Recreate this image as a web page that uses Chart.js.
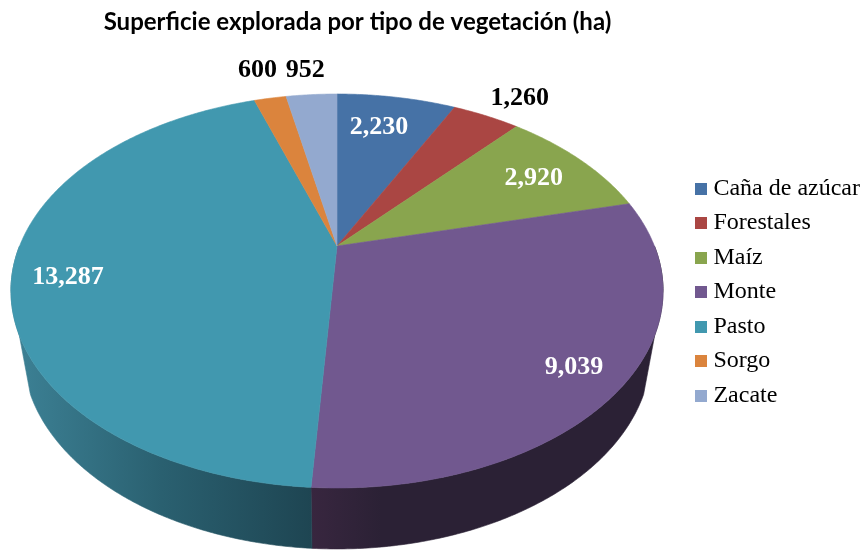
<!DOCTYPE html>
<html><head><meta charset="utf-8">
<style>html,body{margin:0;padding:0;background:#fff}#w{width:864px;height:550px}</style>
<script src="https://cdn.jsdelivr.net/npm/chart.js@4"></script></head>
<body><div id="w"><canvas id="c"></canvas></div>
<script>
const chartTitle = 'Superficie explorada por tipo de vegetación (ha)';
const categories = ['Caña de azúcar','Forestales','Maíz','Monte','Pasto','Sorgo','Zacate'];
const hectares = [2230,1260,2920,9039,13287,600,952];
const sliceColors = ['#4672A6','#AA4643','#89A54E','#71588F','#4198AF','#DB843D','#93A9CF'];
const wallStops = [null,null,null,['#38263F','#2B2135','#2B2135'],['#3D8296','#2A6070','#1E4552'],null,null];
const labelColors = ['#fff','#000','#fff','#fff','#fff','#000','#000'];
const labelRadius = [0.76,1.197,0.781,0.861,0.832,1.242,1.208];
const labelAngleShift = [-1.5,2,1,1,-3.7,0,-0.4];

// Perspective of the tilted disc
const P = {x0:337,y0:246,a:186.7,b:317.4,k:0.2284,depth:61,shrink:0.963,ex:337,ey:291};
const deg=Math.PI/180, TAN=103.2*deg, RIM=115*deg;
function project(theta,r){
  const u=Math.sin(theta)*r, v=Math.cos(theta)*r, d=1+P.k*v;
  return [P.x0+P.b*u/d, P.y0-P.a*v/d];
}
function rim(theta){
  const p=project(theta,1);
  return [P.ex+(p[0]-P.ex)*P.shrink, p[1]+P.depth];
}
// lower outline of the side wall: straight from the tangent point on the disc to the rim
function wallEdge(t){
  const m=t<=Math.PI?t:2*Math.PI-t;
  if(m>=RIM) return rim(t);
  if(m<=TAN) return project(t,1);
  const side=t<=Math.PI?1:-1;
  const A=project(side*TAN,1), B=rim(side*RIM), f=(m-TAN)/(RIM-TAN);
  return [A[0]+(B[0]-A[0])*f, A[1]+(B[1]-A[1])*f];
}
const disc3d = {
  id:'disc3d',
  beforeDatasetDraw(chart,args){
    const ctx=chart.ctx, arcs=chart.getDatasetMeta(args.index).data;
    const angles=arcs.map(e=>[e.startAngle+Math.PI/2,e.endAngle+Math.PI/2]);
    const N=Math.PI/360;
    ctx.save();
    // side wall
    angles.forEach(([s,e],i)=>{
      const a=Math.max(s,Math.PI/2), b=Math.min(e,Math.PI*1.5);
      if(b<=a||!wallStops[i]) return;
      const top=[],bot=[];
      for(let t=a;t<b;t+=N){top.push(project(t,1));bot.push(wallEdge(t));}
      top.push(project(b,1));bot.push(wallEdge(b));
      const xs=top.concat(bot).map(p=>p[0]);
      const lo=Math.min(...xs),hi=Math.max(...xs);
      const g=ctx.createLinearGradient(lo,0,hi,0), st=wallStops[i];
      g.addColorStop(0,st[0]);g.addColorStop(i===3?0.2:0.5,st[1]);g.addColorStop(1,st[2]);
      ctx.fillStyle=g;ctx.strokeStyle=g;ctx.lineWidth=0.6;
      ctx.beginPath();
      top.forEach((p,j)=>j?ctx.lineTo(p[0],p[1]):ctx.moveTo(p[0],p[1]));
      bot.reverse().forEach(p=>ctx.lineTo(p[0],p[1]));
      ctx.closePath();ctx.fill();ctx.stroke();
    });
    // top face
    angles.forEach(([s,e],i)=>{
      ctx.fillStyle=sliceColors[i];ctx.strokeStyle=sliceColors[i];ctx.lineWidth=0.6;
      ctx.beginPath();ctx.moveTo(P.x0,P.y0);
      for(let t=s;t<e;t+=N){const p=project(t,1);ctx.lineTo(p[0],p[1]);}
      const q=project(e,1);ctx.lineTo(q[0],q[1]);
      ctx.closePath();ctx.fill();ctx.stroke();
    });
    // value labels
    ctx.font='bold 26px "Liberation Serif"';ctx.textAlign='center';ctx.textBaseline='middle';
    angles.forEach(([s,e],i)=>{
      const th=(s+e)/2+labelAngleShift[i]*deg;
      const p=project(th,labelRadius[i]);
      ctx.fillStyle=labelColors[i];
      ctx.fillText(hectares[i].toLocaleString('en-US'),p[0],p[1]);
    });
    ctx.restore();
    return false;
  }
};
function swatch(color){
  const c=document.createElement('canvas');c.width=12;c.height=12;
  const x=c.getContext('2d');x.fillStyle=color;x.fillRect(0,0,12,12);return c;
}
const swatches=sliceColors.map(swatch);
new Chart(document.getElementById('c'),{
  type:'pie',
  data:{labels:categories,datasets:[{data:hectares,backgroundColor:sliceColors,pointStyle:swatches}]},
  options:{
    responsive:true,maintainAspectRatio:false,animation:false,
    layout:{padding:{top:34,left:24,right:-6,bottom:0}},
    plugins:{
      tooltip:{enabled:false},
      title:{display:true,text:chartTitle,fullSize:false,color:'#000',
        font:{family:'Lato',size:24,weight:'bold'},padding:{top:-26,bottom:8}},
      legend:{position:'right',
        labels:{usePointStyle:true,pointStyleWidth:0.01,font:{family:'"Liberation Serif"',size:24},color:'#000',padding:10.5,
          generateLabels(chart){return categories.map((t,i)=>({text:t,fillStyle:sliceColors[i],strokeStyle:sliceColors[i],lineWidth:0,pointStyle:swatches[i],index:i}));}}}
    }
  },
  plugins:[disc3d]
});
</script></body></html>
